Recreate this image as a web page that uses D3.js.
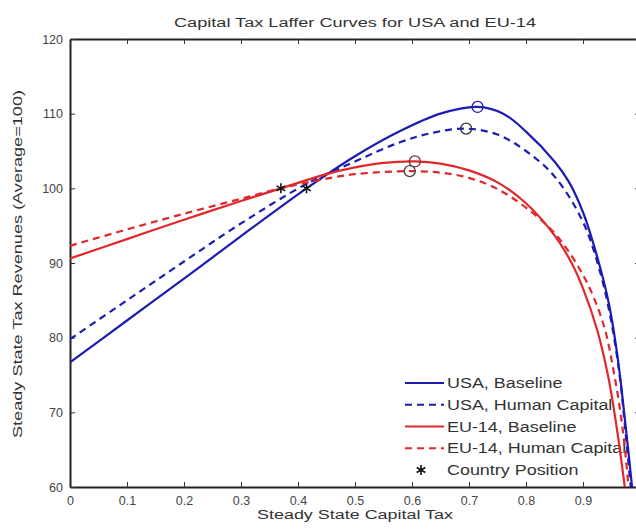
<html lang="en">
<head>
  <meta charset="UTF-8"/>
  <title>Capital Tax Laffer Curves</title>
  <script src="https://d3js.org/d3.v7.min.js"></script>
</head>
<body style="margin:0; background-color:#ffffff;">
<svg id="chart"></svg>
<script>
// tax rates and revenues
var usaBaseX  = [0, 0.1, 0.2, 0.3, 0.415, 0.5, 0.58, 0.65, 0.715, 0.76, 0.8, 0.85, 0.875, 0.9, 0.925, 0.945, 0.96, 0.97, 0.98, 0.99];
var usaBaseY  = [76.7, 82.3, 87.9, 93.6, 100, 104.3, 107.7, 110.0, 110.9, 110.0, 107.6, 103.6, 100.9, 96.8, 90.8, 84.7, 77.8, 71.5, 64.5, 57];
var usaHcX    = [0, 0.1, 0.2, 0.3, 0.415, 0.5, 0.58, 0.64, 0.695, 0.75, 0.8, 0.85, 0.9, 0.93, 0.95, 0.965, 0.975, 0.985];
var usaHcY    = [79.8, 85.0, 90.2, 95.3, 100.6, 103.6, 106.2, 107.5, 108.0, 107.2, 105.0, 101.6, 95.5, 88.8, 82, 74.5, 67, 59];
var euBaseX   = [0, 0.1, 0.2, 0.3, 0.37, 0.45, 0.5, 0.55, 0.605, 0.65, 0.7, 0.75, 0.8, 0.85, 0.88, 0.9, 0.925, 0.945, 0.96, 0.975];
var euBaseY   = [90.6, 93.2, 95.8, 98.3, 100, 101.9, 102.8, 103.4, 103.6, 103.3, 102.4, 100.8, 98.0, 93.7, 90.0, 86.6, 81, 74.5, 67.5, 59];
var euHcX     = [0, 0.1, 0.2, 0.3, 0.37, 0.45, 0.5, 0.596, 0.65, 0.7, 0.75, 0.8, 0.85, 0.9, 0.935, 0.955, 0.97, 0.98];
var euHcY     = [92.3, 94.5, 96.6, 98.6, 100, 101.3, 101.9, 102.3, 102.1, 101.4, 99.9, 97.4, 94.0, 88.4, 82, 75, 67.5, 60];

// country positions (stars) and revenue peaks (circles)
var countryX  = [0.37, 0.415];
var countryY  = [100, 100];
var peakX     = [0.715, 0.695, 0.605, 0.596];
var peakY     = [110.9, 108.0, 103.6, 102.3];

var xTicks = [0, 0.1, 0.2, 0.3, 0.4, 0.5, 0.6, 0.7, 0.8, 0.9, 1];
var yTicks = [60, 70, 80, 90, 100, 110, 120];

var seriesNames = ["USA, Baseline", "USA, Human Capital", "EU-14, Baseline", "EU-14, Human Capital"];

var width = 636, height = 531;
var mLeft = 70, mRight = 640, mTop = 39, mBottom = 487;
var blue = "#1c1cb4", red = "#e0282c";
var font = "'Liberation Sans', Arial, sans-serif";

var svg = d3.select("#chart").attr("width", width).attr("height", height)
    .style("font-family", font);

var x = d3.scaleLinear().domain([0, 1]).range([mLeft, mRight]);
var y = d3.scaleLinear().domain([60, 120]).range([mBottom, mTop]);

svg.append("defs").append("clipPath").attr("id", "plot")
  .append("rect").attr("x", mLeft).attr("y", mTop).attr("width", mRight - mLeft).attr("height", mBottom - mTop);

// the source picture is stretched sideways, so the labels are widened with textLength
function widen(sel, k){
    sel.each(function(){
        var w = this.getComputedTextLength();
        d3.select(this).attr("textLength", w * k).attr("lengthAdjust", "spacingAndGlyphs");
    });
}

svg.append("text").attr("x", 355).attr("y", 27).attr("text-anchor", "middle")
    .attr("textLength", 362).attr("lengthAdjust", "spacingAndGlyphs")
    .style("font-size", "12.5px").style("fill", "#333").text("Capital Tax Laffer Curves for USA and EU-14");

// axes, ticks inward on all four sides (the x=1 label falls off the page)
var gx = svg.append("g").attr("transform", "translate(0," + mBottom + ")")
    .call(d3.axisBottom(x).tickValues(xTicks).tickSizeInner(-5).tickSizeOuter(0).tickPadding(9)
      .tickFormat(function(d){ return d == 0 ? "0" : d == 1 ? "" : d3.format(".1f")(d); }));
var gxt = svg.append("g").attr("transform", "translate(0," + mTop + ")")
    .call(d3.axisTop(x).tickValues(xTicks).tickSizeInner(-5).tickSizeOuter(0).tickFormat(""));
var gy = svg.append("g").attr("transform", "translate(" + mLeft + ",0)")
    .call(d3.axisLeft(y).tickValues(yTicks).tickSizeInner(-5).tickSizeOuter(0).tickPadding(7));
var gyr = svg.append("g").attr("transform", "translate(" + mRight + ",0)")
    .call(d3.axisRight(y).tickValues(yTicks).tickSizeInner(-5).tickSizeOuter(0).tickFormat(""));

[gx, gxt, gy, gyr].forEach(function(g){
    g.select(".domain").attr("stroke", "#222").attr("stroke-width", 2);
    g.selectAll(".tick line").attr("stroke", "#333");
    g.selectAll(".tick text").style("font-size", "12.5px").style("fill", "#444").style("font-family", font);
});
gx.selectAll(".tick text").attr("dy", "0.75em");

// axis labels
svg.append("text").attr("x", 355).attr("y", 519).attr("text-anchor", "middle")
    .attr("textLength", 196).attr("lengthAdjust", "spacingAndGlyphs")
    .style("font-size", "12.5px").style("fill", "#333").text("Steady State Capital Tax");
svg.append("text").attr("transform", "translate(22,264) rotate(-90)").attr("text-anchor", "middle")
    .attr("textLength", 348).attr("lengthAdjust", "spacingAndGlyphs")
    .style("font-size", "12.5px").style("fill", "#333").text("Steady State Tax Revenues (Average=100)");

// legend (drawn under the curves, the curves cross it at the right)
var legend = svg.append("g");
var legStyles = [
    {color: blue, dash: null}, {color: blue, dash: "7,5"},
    {color: red, dash: null}, {color: red, dash: "7,5"}
];
var rowY = d3.scaleLinear().domain([0, 4]).range([383, 470]);
seriesNames.forEach(function(name, i){
    legend.append("line").attr("x1", 405).attr("x2", 444).attr("y1", rowY(i)).attr("y2", rowY(i))
        .attr("stroke", legStyles[i].color).attr("stroke-width", 2.2).attr("stroke-dasharray", legStyles[i].dash);
    legend.append("text").attr("class", "legtext").attr("x", 447).attr("y", rowY(i) + 5)
        .style("font-size", "14px").style("fill", "#333").text(name);
});
var star = d3.symbol().type(d3.symbolAsterisk).size(70);
legend.append("path").attr("d", star).attr("transform", "translate(421," + rowY(4) + ")")
    .attr("stroke", "#111").attr("stroke-width", 1.6).attr("fill", "none");
legend.append("text").attr("class", "legtext").attr("x", 447).attr("y", rowY(4) + 5)
    .style("font-size", "14px").style("fill", "#333").text("Country Position");
widen(legend.selectAll("text.legtext"), 1.28);

// curves
var line = d3.line().x(function(d){ return x(d[0]); }).y(function(d){ return y(d[1]); })
    .curve(d3.curveCatmullRom.alpha(0.5));
var curves = [
    {xs: usaBaseX, ys: usaBaseY, st: legStyles[0]},
    {xs: usaHcX, ys: usaHcY, st: legStyles[1]},
    {xs: euBaseX, ys: euBaseY, st: legStyles[2]},
    {xs: euHcX, ys: euHcY, st: legStyles[3]}
];
var plot = svg.append("g").attr("clip-path", "url(#plot)");
curves.forEach(function(c){
    plot.append("path").datum(d3.zip(c.xs, c.ys)).attr("d", line)
        .attr("fill", "none").attr("stroke", c.st.color).attr("stroke-width", 2.2)
        .attr("stroke-dasharray", c.st.dash);
});

// peak circles
var peakColors = [blue, "#333", "#7a3030", "#444"];
plot.selectAll("circle.peak").data(d3.range(peakX.length)).enter().append("circle")
    .attr("cx", function(i){ return x(peakX[i]); }).attr("cy", function(i){ return y(peakY[i]); })
    .attr("r", 5.5).attr("fill", "none").attr("stroke", function(i){ return peakColors[i]; }).attr("stroke-width", 1.3);

// country stars
plot.selectAll("path.star").data(d3.range(countryX.length)).enter().append("path")
    .attr("d", star)
    .attr("transform", function(i){ return "translate(" + x(countryX[i]) + "," + y(countryY[i]) + ")"; })
    .attr("stroke", "#111").attr("stroke-width", 1.6).attr("fill", "none");
</script>
</body>
</html>
